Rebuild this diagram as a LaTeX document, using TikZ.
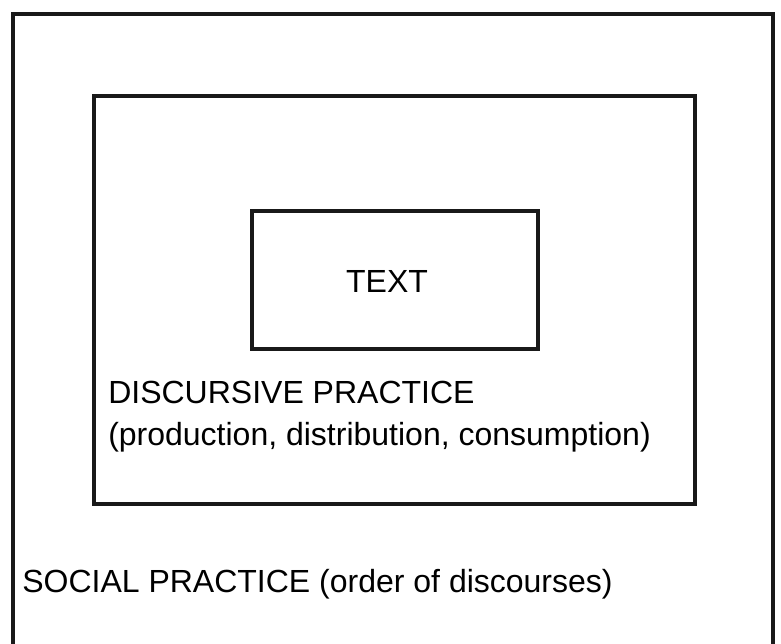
\documentclass[tikz,border=0pt]{standalone}
\usepackage{fontspec}
\setmainfont{Liberation Sans}
\usetikzlibrary{positioning}

\tikzset{
    frame/.style={draw=black!90, line width=3pt, inner sep=0pt, outer sep=0pt},
    label text/.style={font=\fontsize{24}{31.5}\selectfont, inner sep=0pt, align=left}
}

\begin{document}
\begin{tikzpicture}[x=0.75pt, y=-0.75pt]

        \useasboundingbox (0,0) rectangle (781,643);

        \node[frame, minimum width=570pt, minimum height=499.5pt] (social) at (393,347) {};
        \node[frame, minimum width=450.75pt, minimum height=306pt] (discursive) at (394.5,300) {};
        \node[frame, minimum width=214.5pt, minimum height=103.5pt] (textbox) at (395,280) {};

        \node[label text] (textlabel) at (387,281) {TEXT};
        \node[label text, anchor=base west] (discursivelabel) at (108,445)
            {DISCURSIVE PRACTICE\\(production, distribution, consumption)};
        \node[label text, anchor=base west] (sociallabel) at (22,592)
            {SOCIAL PRACTICE (order of discourses)};

\end{tikzpicture}
\end{document}
